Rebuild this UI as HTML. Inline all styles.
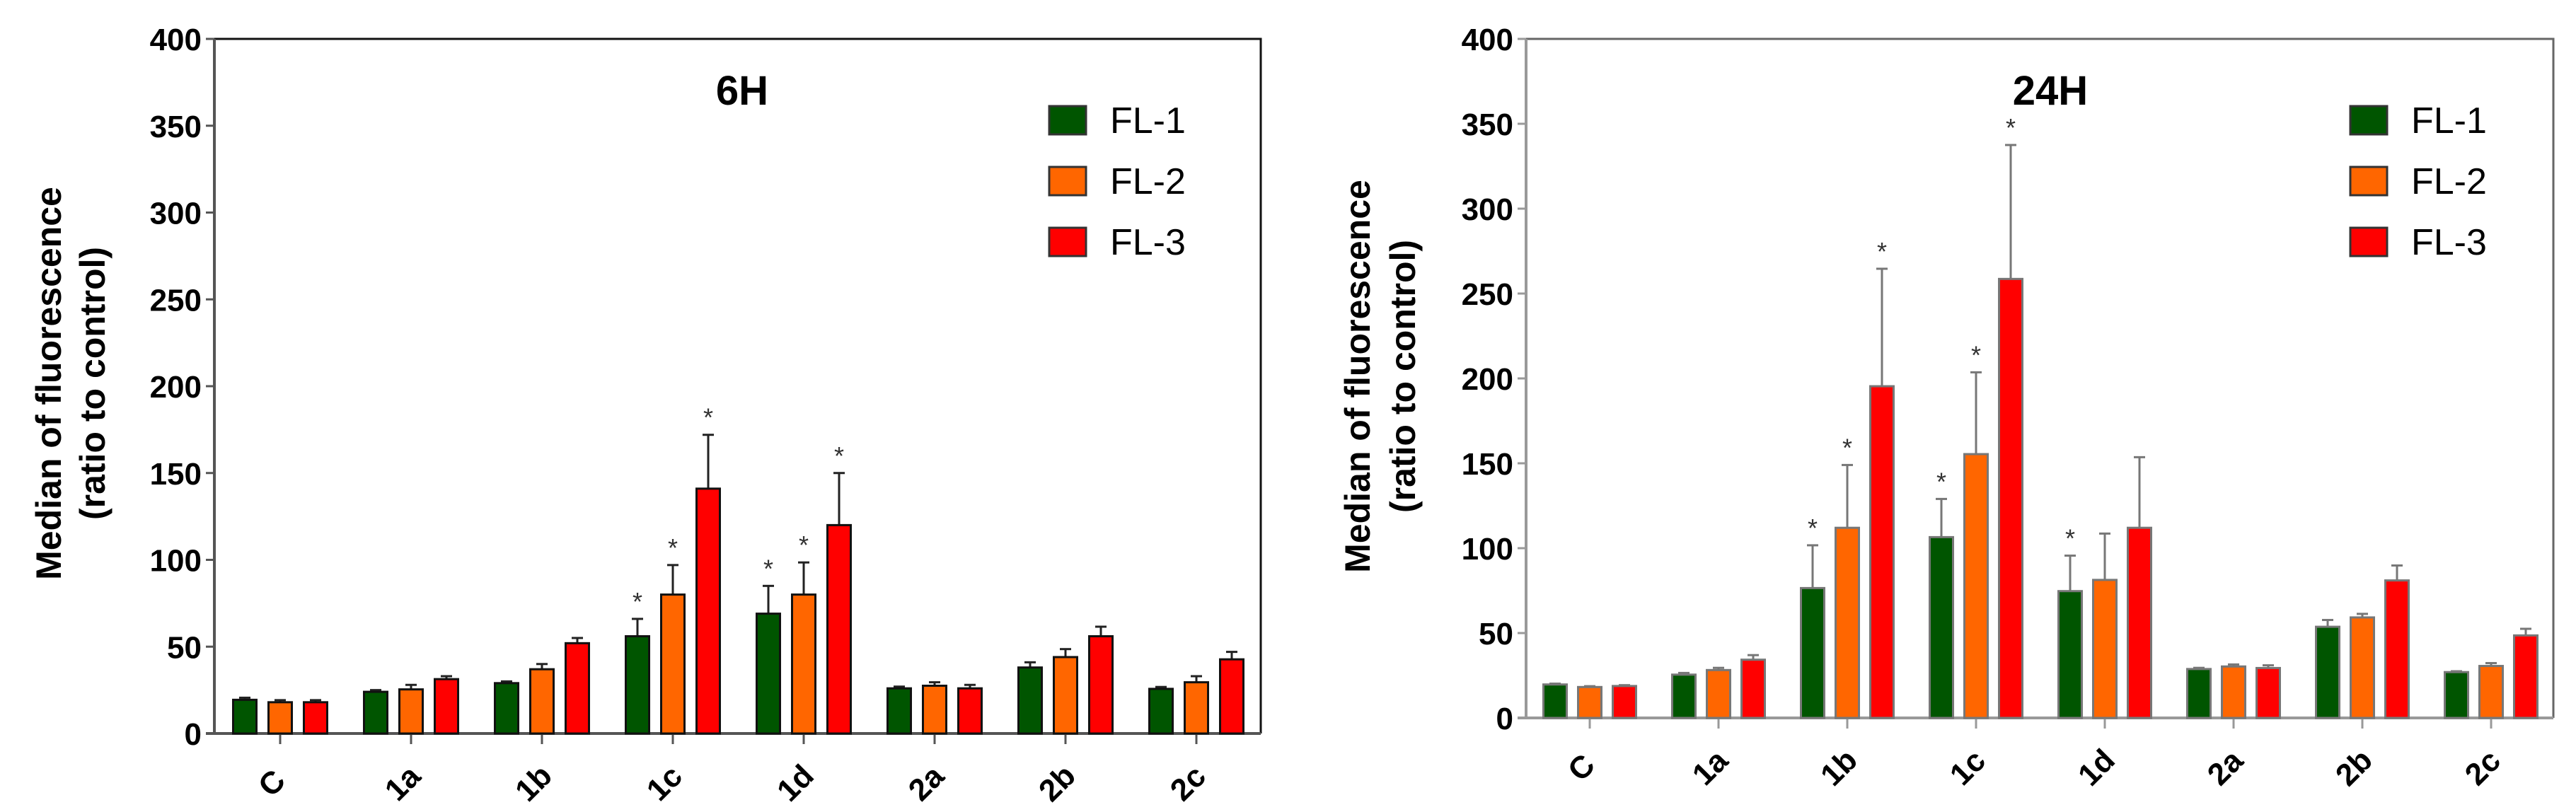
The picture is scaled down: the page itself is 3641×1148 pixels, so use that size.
<!DOCTYPE html>
<html><head><meta charset="utf-8"><style>
html,body{margin:0;padding:0;background:#fff;}
svg{display:block;font-family:"Liberation Sans",Arial,sans-serif;}
</style></head><body>
<svg id="fig" width="3641" height="1148" viewBox="0 0 3641 1148" xmlns="http://www.w3.org/2000/svg"></svg>
<script>
const categories = ["C","1a","1b","1c","1d","2a","2b","2c"];
const seriesNames = ["FL-1","FL-2","FL-3"];
const seriesColors = ["#005500","#ff6600","#ff0000"];
const yTicks = [0,50,100,150,200,250,300,350,400];
// 6H
const h6_fl1 = [19.4,24,29,56,69,26,38,25.7];
const h6_fl2 = [18,25.4,37,80,80,27.5,44,29.5];
const h6_fl3 = [18,31.3,52,141,120,26,56,42.7];
const h6_err1 = [1.2,1,1,10,16,1,3,1.1];
const h6_err2 = [1.2,2.6,3,17,18.5,2,4.6,3.5];
const h6_err3 = [1.2,1.7,3,31,30,2,5.5,4.3];
const h6_star1 = [0,0,0,1,1,0,0,0];
const h6_star2 = [0,0,0,1,1,0,0,0];
const h6_star3 = [0,0,0,1,1,0,0,0];
// 24H
const h24_fl1 = [19.7,25.5,76.5,106.5,74.7,28.8,53.7,27];
const h24_fl2 = [18.2,28.2,112,155.4,81.3,30.3,59.2,30.6];
const h24_fl3 = [18.8,34.3,195.4,258.6,112,29.4,81,48.6];
const h24_err1 = [0.5,1,25.2,22.5,20.9,0.7,4,0.5];
const h24_err2 = [0.5,1.3,37,48.2,27.3,1.2,2.1,1.7];
const h24_err3 = [0.5,2.7,69.2,78.9,41.6,1.6,8.8,3.9];
const h24_star1 = [0,0,1,1,1,0,0,0];
const h24_star2 = [0,0,1,1,0,0,0,0];
const h24_star3 = [0,0,1,1,0,0,0,0];

const NS="http://www.w3.org/2000/svg";
const svg=document.getElementById('fig');
function mk(tag,attrs,parent){const e=document.createElementNS(NS,tag);for(const k in attrs)e.setAttribute(k,attrs[k]);(parent||svg).appendChild(e);return e;}

function drawChart(cfg){
  const g=mk('g',{});
  
  
  const yS=v=>cfg.y0-(v/400)*(cfg.y0-cfg.yTop);
  const xS=i=>cfg.xC+i*cfg.step;
  // frame top/right
  const fr=mk('path',{d:`M${cfg.axX},${cfg.yTop} H${cfg.right} V${cfg.y0}`,fill:'none',stroke:cfg.frameColor,'stroke-width':3},g);
  
  
  // y axis
  const ya=mk('line',{x1:cfg.axX,y1:cfg.yTop,x2:cfg.axX,y2:cfg.y0+2,stroke:cfg.axisColor,'stroke-width':4},g);
  
  
  yTicks.forEach(t=>{
    const y=yS(t);
    const tl=mk('line',{x1:cfg.axX-12,y1:y,x2:cfg.axX,y2:y,stroke:cfg.axisColor,'stroke-width':3},g);
    
    
    const tx=mk('text',{x:cfg.axX-18,y:y+16,'text-anchor':'end','font-size':44,'font-weight':'bold',fill:'#000'},g);
    tx.textContent=String(t);
    
    
  });
  // x axis
  const xa=mk('line',{x1:cfg.axX-12,y1:cfg.y0,x2:cfg.right,y2:cfg.y0,stroke:cfg.axisColor,'stroke-width':4},g);
  
  
  const vals=[cfg.v1,cfg.v2,cfg.v3], errs=[cfg.e1,cfg.e2,cfg.e3], stars=[cfg.s1,cfg.s2,cfg.s3];
  categories.forEach((c,i)=>{
    const cx=xS(i);
    const tk=mk('line',{x1:cx,y1:cfg.y0,x2:cx,y2:cfg.y0+15,stroke:cfg.axisColor,'stroke-width':3},g);
    
    
    const lx=cx-12, ly=cfg.y0+70;
    const lb=mk('text',{x:lx,y:ly+15,'text-anchor':'middle','font-size':44,'font-weight':'bold',fill:'#000',transform:`rotate(-45 ${lx} ${ly})`},g);
    lb.textContent=c;
    
    
    for(let s=0;s<3;s++){
      const bx=cx+(s-1)*cfg.off, w=cfg.bw;
      const v=vals[s][i], top=yS(v), et=yS(v+errs[s][i]);
      const el=mk('line',{x1:bx,y1:top,x2:bx,y2:et,stroke:cfg.errColor,'stroke-width':3},g);
      
      
      const ec=mk('line',{x1:bx-8,y1:et,x2:bx+8,y2:et,stroke:cfg.errColor,'stroke-width':3},g);
      
      
      const r=mk('rect',{x:bx-w/2,y:top,width:w,height:cfg.y0-top,fill:seriesColors[s],stroke:cfg.barStroke,'stroke-width':3},g);
      
      
      if(stars[s][i]){
        const st=mk('text',{x:bx,y:et-12,'text-anchor':'middle','font-size':36,fill:'#333'},g);
        st.textContent='*';
        
        
      }
    }
  });
  // title
  const tt=mk('text',{x:cfg.titleX,y:148,'text-anchor':'middle','font-size':58,'font-weight':'bold',fill:'#000'},g);
  tt.textContent=cfg.title;
  
  
  // y title
  const yt1=mk('text',{x:cfg.ytX1,y:cfg.ytY,'text-anchor':'middle','font-size':50,'font-weight':'bold',fill:'#000',transform:`rotate(-90 ${cfg.ytX1} ${cfg.ytY})`},g);
  yt1.textContent='Median of fluorescence';
  
  
  const yt2=mk('text',{x:cfg.ytX2,y:cfg.ytY,'text-anchor':'middle','font-size':50,'font-weight':'bold',fill:'#000',transform:`rotate(-90 ${cfg.ytX2} ${cfg.ytY})`},g);
  yt2.textContent='(ratio to control)';
  
  
  // legend
  const lg=mk('g',{},g);
  
  
  seriesNames.forEach((n,s)=>{
    const y=150+s*86;
    const sw=mk('rect',{x:cfg.legX,y:y,width:52,height:40,fill:seriesColors[s],stroke:'#333','stroke-width':3},lg);
    
    
    const lt=mk('text',{x:cfg.legX+86,y:y+38,'font-size':52,fill:'#000'},lg);
    lt.textContent=n;
    
    
  });
}

drawChart({id:'6h',title:'6H',axX:303,right:1782,yTop:55,y0:1037,xC:396,step:185,off:50,bw:33,
  frameColor:'#111',axisColor:'#555',errColor:'#222',barStroke:'#111',
  v1:h6_fl1,v2:h6_fl2,v3:h6_fl3,e1:h6_err1,e2:h6_err2,e3:h6_err3,s1:h6_star1,s2:h6_star2,s3:h6_star3,
  titleX:1049,ytX1:86,ytX2:148,ytY:542,legX:1483});
drawChart({id:'24h',title:'24H',axX:2157,right:3609,yTop:55,y0:1015,xC:2247,step:182,off:49,bw:33,
  frameColor:'#666',axisColor:'#999',errColor:'#777',barStroke:'#777',
  v1:h24_fl1,v2:h24_fl2,v3:h24_fl3,e1:h24_err1,e2:h24_err2,e3:h24_err3,s1:h24_star1,s2:h24_star2,s3:h24_star3,
  titleX:2898,ytX1:1936,ytX2:2000,ytY:532,legX:3322});
</script>
</body></html>
